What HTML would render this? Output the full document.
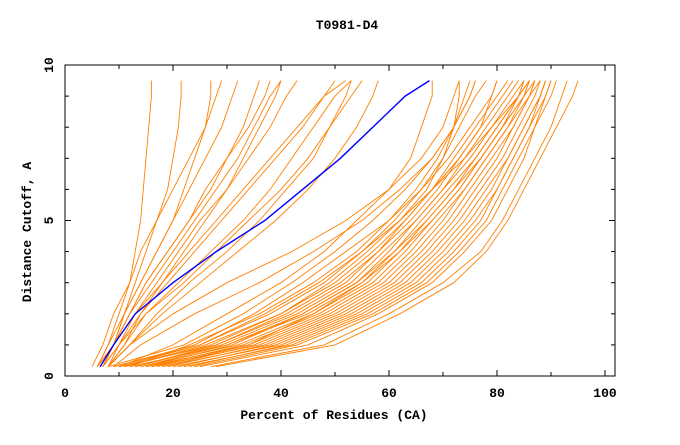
<!DOCTYPE html>
<html><head><meta charset="utf-8">
<style>
html,body{margin:0;padding:0;background:#fff;}
svg text{font-family:"Liberation Mono",monospace;}
</style></head>
<body>
<svg id="chart" width="680" height="440" viewBox="0 0 680 440" xmlns="http://www.w3.org/2000/svg">
<rect x="0" y="0" width="680" height="440" fill="#fff"/>
<text x="347" y="29" text-anchor="middle" font-size="13" font-weight="bold">T0981-D4</text>
<g id="plot"></g>
<rect x="65" y="65" width="550" height="311" fill="none" stroke="#000" stroke-width="1"/>
<g id="axes"></g>
<text x="334" y="419" text-anchor="middle" font-size="13" font-weight="bold">Percent of Residues (CA)</text>
<text x="31" y="232" text-anchor="middle" font-size="13" font-weight="bold" transform="rotate(-90 31 232)">Distance Cutoff, A</text>
</svg>
<script>
const levels = [0.3,1,2,3,4,5,6,7,8,9,9.5];
const xTicks = [0,20,40,60,80,100];
const yTicks = [0,5,10];
const blueSeries = [6.5,9,13,20,28,37,44,51,57,63,67.5];
const orangeSeries = [
[6,8,10,12,13,14,14.5,15,15.5,16,16],
[7,9,11,13,15,17,19,20,21,21.5,21.5],
[5,7,9,12,14,17,20,23,26,28,29],
[6,8,11,14,17,20,23,26,29,31,32],
[7,9,12,15,19,23,27,30,33,35,36],
[6,9,12,16,20,24,28,32,35,38,40],
[7,10,13,17,21,25,30,34,38,41,43],
[8,10,14,19,24,29,34,39,44,48,50],
[6,9,13,18,23,28,33,38,43,48,52],
[8,11,15,21,27,33,38,42,46,50,53],
[7,10,15,22,28,34,40,45,49,53,55],
[8,12,18,25,32,39,45,50,54,57,58],
[8,11,14,18,22,26,30,33,36,39,40],
[6,9,12,15,19,23,26,30,34,37,38],
[7,9,11,14,17,20,22,24,26,27,27],
[8,12,17,23,30,36,41,46,49,52,53],
[8,22,33,42,50,57,63,68,72,75,76],
[9,25,38,48,55,61,66,70,73,76,78],
[10,28,42,52,58,63,68,72,76,80,82],
[12,30,44,54,60,65,70,74,78,82,84],
[14,32,46,56,62,67,72,76,80,84,85],
[15,34,48,58,64,69,74,78,82,85,86],
[16,36,50,60,66,71,75,79,83,86,87],
[18,38,52,62,68,73,77,81,84,87,88],
[20,40,54,64,70,75,79,82,85,88,89],
[22,42,56,66,72,77,80,83,86,89,90],
[25,45,58,68,74,79,82,85,87,90,91],
[28,50,62,72,78,82,85,88,91,94,95],
[27,48,60,70,77,81,84,87,90,92,93],
[9,24,35,44,52,60,66,71,75,79,80],
[11,26,40,50,57,63,68,73,77,81,83],
[13,29,43,53,59,65,70,75,79,83,85],
[10,20,30,40,48,54,60,64,66,68,68],
[12,23,36,46,54,60,65,69,72,74,75],
[14,30,45,55,62,68,73,77,81,85,86],
[16,33,47,57,63,68,73,77,81,84,85],
[18,35,49,59,65,70,74,78,82,86,87],
[19,37,51,61,67,72,76,80,83,86,88],
[21,39,53,63,69,74,78,82,85,88,89],
[23,41,55,65,71,76,80,83,86,88,89],
[24,43,57,67,73,78,81,84,87,89,90],
[17,34,46,55,61,66,71,76,80,84,86],
[15,31,44,54,61,67,72,77,81,85,87],
[11,27,40,49,56,62,68,74,79,84,86],
[10,25,37,47,55,62,67,70,72,73,73],
[13,28,41,51,58,64,69,73,77,79,80],
[8,12,20,30,42,52,60,66,70,72,73],
[9,14,24,36,46,55,62,68,72,75,76]
];
const NS='http://www.w3.org/2000/svg';
const xs = v => 65 + v*5.4;
const ys = v => 376 - v*31.1;
const plot = document.getElementById('plot');
const axes = document.getElementById('axes');
function line(series, color, w){
  const p = document.createElementNS(NS,'polyline');
  p.setAttribute('points', series.map((x,i)=>xs(x).toFixed(1)+','+ys(levels[i]).toFixed(1)).join(' '));
  p.setAttribute('fill','none');
  p.setAttribute('stroke',color);
  p.setAttribute('stroke-width',w);
  return p;
}
orangeSeries.forEach((s,i)=>{
  const p = line(s,'#ff8000',0.9);
  
  
  plot.appendChild(p);
});
const b = line(blueSeries,'#0000ff',1.4);


plot.appendChild(b);
function seg(x1,y1,x2,y2){
  const l=document.createElementNS(NS,'line');
  l.setAttribute('x1',x1);l.setAttribute('y1',y1);l.setAttribute('x2',x2);l.setAttribute('y2',y2);
  l.setAttribute('stroke','#000');l.setAttribute('stroke-width',1);
  axes.appendChild(l);return l;
}
for(let v=0;v<=100;v+=10){
  const x=xs(v);
  const len = v%20===0?6:4;
  const t1=seg(x,376,x,376-len);
  
  
  const t2=seg(x,65,x,65+len);
  
  
}
for(let v=0;v<=10;v+=1){
  const y=ys(v);
  const len = v%5===0?6:4;
  const t1=seg(65,y,65+len,y);
  
  
  const t2=seg(615,y,615-len,y);
  
  
}
xTicks.forEach(v=>{
  const t=document.createElementNS(NS,'text');
  t.setAttribute('x',xs(v));t.setAttribute('y',397);
  t.setAttribute('text-anchor','middle');t.setAttribute('font-size','13');
  t.setAttribute('font-weight','bold');
  t.textContent=v;
  
  
  axes.appendChild(t);
});
yTicks.forEach(v=>{
  const t=document.createElementNS(NS,'text');
  const y=ys(v);
  t.setAttribute('x',53);t.setAttribute('y',y);
  t.setAttribute('text-anchor','middle');t.setAttribute('font-size','13');
  t.setAttribute('font-weight','bold');
  t.setAttribute('transform','rotate(-90 53 '+y+')');
  t.textContent=v;
  
  
  axes.appendChild(t);
});
</script>
</body></html>
